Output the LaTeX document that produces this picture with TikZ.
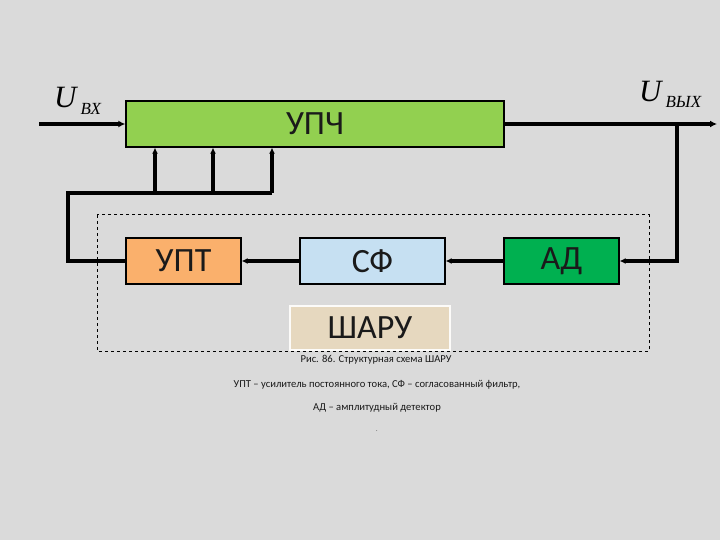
\documentclass[tikz,border=0pt]{standalone}
\usepackage{fontspec}
\setmainfont{Carlito}
\newfontfamily\ufont{Liberation Serif}
\usetikzlibrary{arrows.meta}
\definecolor{bg}{HTML}{DADADA}
\definecolor{upchc}{HTML}{92D050}
\definecolor{adc}{HTML}{00B050}
\definecolor{sfc}{HTML}{C6E0F2}
\definecolor{uptc}{HTML}{FAB06C}
\definecolor{sharuc}{HTML}{E6D8BF}
\definecolor{txt}{HTML}{1A1A1A}
\tikzset{
  blk/.style={draw=black, line width=1.4pt, inner sep=0pt, text=txt, font=\fontsize{34}{34}\selectfont},
  mainline/.style={line width=4.5pt, -{Latex[length=7pt,width=7pt]}},
  fbline/.style={line width=3.4pt},
  fbarrow/.style={line width=3.4pt, -{Latex[length=6pt,width=6pt]}},
  captext/.style={font=\fontsize{10.6}{10.6}\selectfont, text=txt, inner sep=0pt},
}
\begin{document}
\begin{tikzpicture}[x=1pt,y=-1pt]
\useasboundingbox (0,0) rectangle (720,540);
\fill[bg] (0,0) rectangle (720,540);

% frame
\draw[dashed, line width=1pt] (97,215) rectangle (649,351);

% blocks
\node[blk, fill=upchc, minimum width=378pt, minimum height=46pt] (upch) at (315,124) {УПЧ};
\node[blk, fill=uptc, minimum width=115pt, minimum height=46pt] (upt) at (183.5,261) {УПТ};
\node[blk, fill=sfc, minimum width=145pt, minimum height=46pt] (sf) at (372.5,261) {СФ};
\node[blk, fill=adc, minimum width=115pt, minimum height=46pt] (ad) at (561.5,261) {АД};
\node[blk, draw=white!90!sharuc, fill=sharuc, minimum width=160pt, minimum height=44pt] (sharu) at (370,328) {ШАРУ};

% labels
\node[inner sep=0pt, anchor=base west] (uin) at (54,108) {\ufont\itshape\fontsize{31}{31}\selectfont U\hspace{4pt}\raisebox{-7pt}{\fontsize{17}{17}\selectfont ВХ}};
\node[inner sep=0pt, anchor=base west] (uout) at (639,102) {\ufont\itshape\fontsize{31}{31}\selectfont U\hspace{4pt}\raisebox{-6pt}{\fontsize{17}{17}\selectfont ВЫХ}};

% coordinates
\coordinate (in) at (39,124);
\coordinate (out) at (717,124);
\coordinate (tap) at (677,124);
\coordinate (fbl) at (68,193);
\coordinate (b1) at (155,193);
\coordinate (b2) at (213,193);
\coordinate (b3) at (272,193);

% main path
\draw[mainline] (in) -- (upch.west);
\draw[mainline] (upch.east) -- (out);
\draw[fbarrow] (tap) |- (ad.east);
\draw[fbarrow] (ad.west) -- (sf.east);
\draw[fbarrow] (sf.west) -- (upt.east);

% feedback to UPCH
\draw[fbline, line join=miter] (upt.west) -| (fbl) -- (b3);
\draw[fbarrow] (b1) -- (b1 |- upch.south);
\draw[fbarrow] (b2) -- (b2 |- upch.south);
\draw[fbarrow] (b3) -- (b3 |- upch.south);

% captions
\node[captext] (c1) at (376,360) {Рис. 86. Структурная схема ШАРУ};
\node[captext] (c2) at (377,385) {УПТ – усилитель постоянного тока, СФ – согласованный фильтр,};
\node[captext] (c3) at (377,408) {АД – амплитудный детектор};
\node[captext, font=\fontsize{6}{6}\selectfont] (c4) at (377,431) {.};
\end{tikzpicture}
\end{document}
